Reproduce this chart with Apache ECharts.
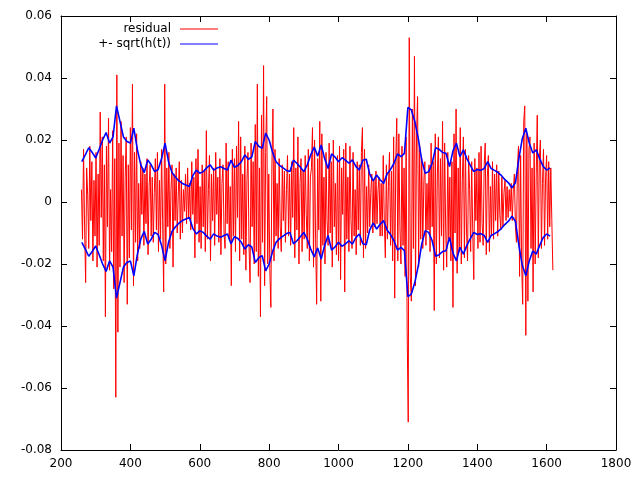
<!DOCTYPE html>
<html>
<head>
<meta charset="utf-8">
<title>residual</title>
<script src="https://cdn.jsdelivr.net/npm/echarts@6/dist/echarts.min.js"></script>
<style>
  html, body { margin: 0; padding: 0; background: #fff; }
  #main { width: 640px; height: 480px; }
</style>
</head>
<body>
<div id="main"></div>
<script>
// observation index t: first value, spacing
const resStart = 259;
const resStep = 3;
const sigStart = 260;
const sigStep = 10;

// residual (every 3rd t)
const residual = [
  0.004, -0.012, 0.017, -0.008, -0.026, 0.011, 0.002, -0.015, 0.018, -0.006, 0.013, -0.019, 0.007, -0.011, 0.016, -0.021,
  0.009, -0.014, 0.029, -0.005, 0.021, -0.019, 0.012, -0.037, 0.018, -0.008, 0.027, -0.022, 0.004, -0.016, 0.023, -0.028,
  0.014, -0.063, 0.041, -0.042, 0.019, -0.021, 0.026, -0.011, 0.015, -0.026, 0.008, 0.021, -0.033, 0.012, -0.018, 0.024,
  -0.009, 0.038, -0.027, 0.016, -0.013, 0.022, -0.019, 0.006, -0.015, 0.013, -0.004, 0.011, -0.014, 0.009, -0.007, 0.014,
  -0.017, 0.005, 0.012, -0.011, 0.008, -0.013, 0.003, 0.014, -0.009, 0.016, -0.016, 0.007, -0.012, 0.017, -0.006, -0.029,
  0.038, -0.02, 0.011, -0.008, 0.016, -0.015, 0.004, 0.012, -0.021, 0.009, -0.006, 0.011, -0.01, 0.002, 0.013, -0.012,
  0.007, -0.01, 0.004, -0.003, 0.009, -0.007, 0.011, -0.005, 0.006, -0.009, 0.013, -0.004, 0.008, -0.018, 0.014, -0.007,
  0.017, -0.013, 0.005, -0.015, 0.012, -0.008, 0.01, -0.016, 0.023, -0.012, 0.004, 0.015, -0.019, 0.009, -0.006, 0.011,
  -0.014, 0.016, -0.004, 0.008, -0.013, 0.014, -0.017, 0.006, 0.012, -0.01, -0.015, 0.019, -0.007, 0.013, -0.012, 0.005,
  -0.027, 0.017, -0.011, 0.014, -0.016, 0.018, -0.005, 0.026, -0.019, 0.021, -0.012, 0.009, -0.017, 0.018, -0.022, 0.007,
  0.016, -0.014, -0.026, 0.019, -0.008, 0.013, -0.02, 0.025, -0.016, 0.038, -0.024, 0.011, -0.037, 0.028, -0.013, 0.044,
  -0.027, 0.016, 0.034, -0.02, 0.009, -0.022, -0.034, 0.012, 0.030, -0.019, 0.017, -0.011, 0.006, -0.015, 0.014, -0.008,
  -0.016, 0.012, -0.006, 0.01, -0.013, 0.004, 0.015, -0.011, 0.009, -0.014, 0.013, -0.005, 0.024, -0.018, 0.011, -0.009,
  0.021, -0.02, 0.006, 0.014, -0.016, 0.01, -0.012, 0.015, -0.004, -0.015, 0.017, -0.019, 0.008, 0.011, 0.024, -0.021,
  0.02, -0.012, -0.033, 0.014, -0.009, 0.026, -0.032, 0.022, -0.014, 0.008, -0.02, 0.016, -0.006, -0.014, 0.019, -0.01,
  0.013, -0.021, 0.02, -0.008, 0.006, -0.017, 0.015, -0.019, 0.018, -0.025, 0.011, -0.004, 0.017, -0.029, 0.019, -0.012,
  0.008, -0.016, 0.018, -0.006, -0.015, 0.016, -0.011, 0.004, -0.017, 0.013, -0.009, 0.012, -0.014, 0.016, 0.024, -0.018,
  0.017, -0.015, 0.005, -0.01, 0.012, -0.008, 0.003, 0.009, -0.01, 0.007, -0.008, 0.01, -0.007, 0.004, 0.008, -0.011,
  0.006, -0.011, 0.015, -0.006, -0.018, 0.012, -0.012, 0.005, 0.016, -0.014, 0.01, -0.019, 0.021, -0.031, 0.013, 0.027,
  -0.019, 0.022, -0.008, -0.02, 0.018, -0.014, 0.011, -0.024, 0.021, -0.042, -0.071, 0.053, -0.024, -0.032, 0.03, -0.015,
  0.047, -0.027, 0.022, 0.034, -0.021, 0.018, -0.012, 0.014, -0.015, 0.007, 0.013, -0.014, 0.006, -0.009, 0.012, -0.016,
  0.019, -0.008, 0.013, -0.035, 0.022, -0.02, 0.009, 0.021, -0.018, 0.014, -0.011, 0.026, -0.022, 0.019, -0.009, -0.021,
  0.016, -0.012, 0.008, -0.019, 0.013, -0.034, 0.022, -0.01, 0.03, -0.023, 0.011, -0.016, 0.024, -0.02, 0.007, 0.021,
  -0.018, 0.017, -0.009, -0.019, 0.015, 0.004, -0.016, 0.013, -0.01, -0.025, 0.014, -0.006, 0.011, -0.015, 0.016, -0.013,
  0.018, -0.007, -0.014, 0.012, 0.019, -0.017, 0.008, 0.015, -0.016, 0.005, -0.011, 0.013, -0.012, 0.009, -0.006, 0.012,
  -0.011, 0.01, -0.004, -0.009, 0.008, -0.008, 0.003, 0.007, -0.006, 0.005, -0.005, 0.004, -0.003, 0.006, -0.006, 0.004,
  0.009, -0.008, -0.013, 0.012, 0.018, -0.024, 0.015, -0.02, -0.033, 0.026, 0.031, -0.043, 0.022, -0.032, 0.017, 0.021,
  -0.015, 0.011, -0.029, 0.019, -0.02, 0.009, 0.028, -0.018, 0.014, 0.02, -0.015, 0.006, 0.017, -0.014, 0.008, 0.015,
  -0.012, 0.013, -0.008, 0.011, -0.006, -0.022
];

// sqrt(h(t)), every 10th t
const sqrtH = [
  0.013, 0.0152, 0.0175, 0.016, 0.0142, 0.017, 0.020, 0.0224, 0.019, 0.021,
  0.031, 0.026, 0.021, 0.0195, 0.019, 0.0238, 0.017, 0.012, 0.0095, 0.0136,
  0.012, 0.0098, 0.0105, 0.014, 0.019, 0.013, 0.0095, 0.008, 0.0068, 0.006,
  0.0055, 0.005, 0.0085, 0.0103, 0.0093, 0.0098, 0.011, 0.012, 0.0103, 0.011,
  0.0114, 0.0108, 0.0103, 0.0135, 0.0112, 0.0118, 0.013, 0.0152, 0.0138, 0.0145,
  0.0195, 0.018, 0.0173, 0.0222, 0.020, 0.016, 0.013, 0.0118, 0.011, 0.0102,
  0.0098, 0.0135, 0.0125, 0.0112, 0.0098, 0.012, 0.0152, 0.0177, 0.0148, 0.0184,
  0.014, 0.0108, 0.0155, 0.0145, 0.013, 0.0143, 0.0135, 0.0125, 0.0136, 0.0115,
  0.0103, 0.0135, 0.0138, 0.009, 0.0068, 0.0087, 0.0072, 0.006, 0.009, 0.0105,
  0.0125, 0.0155, 0.0146, 0.0157, 0.0305, 0.0297, 0.026, 0.0205, 0.0135, 0.0093,
  0.0098, 0.0125, 0.0175, 0.017, 0.016, 0.0157, 0.0114, 0.0165, 0.019, 0.0146,
  0.0168, 0.014, 0.0118, 0.0098, 0.0105, 0.0102, 0.0108, 0.013, 0.0108, 0.0102,
  0.0095, 0.0085, 0.0072, 0.0062, 0.0046, 0.0062, 0.014, 0.0205, 0.0238, 0.019,
  0.0158, 0.0168, 0.014, 0.0115, 0.0103, 0.011
];

const xTicks = { min: 200, max: 1800, interval: 200 };
const yTicks = { min: -0.08, max: 0.06, interval: 0.02 };

const resData = residual.map((v, i) => [resStart + i * resStep, v]);
const upData = sqrtH.map((v, i) => [sigStart + i * sigStep, v]);
const lowData = sqrtH.map((v, i) => [sigStart + i * sigStep, -v]);

const font = { fontFamily: "DejaVu Sans", fontSize: 12, color: "#000" };
const black = { lineStyle: { color: "#000", width: 1 } };
// thin bar as legend key, like gnuplot's line sample
const keyIcon = "path://M0,0 H38 V1 H0 Z";

const chart = echarts.init(document.getElementById("main"));

const legendItem = (name, top) => ({
  data: [name],
  right: 422,
  top: top,
  padding: 0,
  align: "right",
  icon: keyIcon,
  itemWidth: 38,
  itemHeight: 14,
  textStyle: { ...font, padding: [0, 4, 0, 0] },
});

const option = {
  animation: false,
  backgroundColor: "#fff",
  grid: { left: 61, right: 24, top: 16, bottom: 30 },
  legend: [legendItem("residual", 23), legendItem("+- sqrt(h(t))", 38)],
  xAxis: [
    {
      type: "value",
      position: "bottom",
      ...xTicks,
      axisLine: { show: true, onZero: false, ...black },
      axisTick: { show: true, inside: true, length: 6, ...black },
      axisLabel: { ...font, margin: 8, formatter: (v) => String(v) },
      splitLine: { show: false },
    },
    {
      type: "value",
      position: "top",
      ...xTicks,
      axisLine: { show: true, onZero: false, ...black },
      axisTick: { show: true, inside: true, length: 6, ...black },
      axisLabel: { show: false },
      splitLine: { show: false },
    },
  ],
  yAxis: [
    {
      type: "value",
      position: "left",
      ...yTicks,
      axisLine: { show: true, onZero: false, ...black },
      axisTick: { show: true, inside: true, length: 6, ...black },
      axisLabel: {
        ...font,
        margin: 9,
        formatter: (v) => String(Math.round(v * 100) / 100),
      },
      splitLine: { show: false },
    },
    {
      type: "value",
      position: "right",
      ...yTicks,
      axisLine: { show: true, onZero: false, ...black },
      axisTick: { show: true, inside: true, length: 6, ...black },
      axisLabel: { show: false },
      splitLine: { show: false },
    },
  ],
  series: [
    {
      name: "residual",
      type: "line",
      data: resData,
      symbol: "none",
      color: "#ff0000",
      lineStyle: { color: "#ff0000", width: 1 },
    },
    {
      name: "+- sqrt(h(t))",
      type: "line",
      data: upData,
      symbol: "none",
      color: "#0000ff",
      lineStyle: { color: "#0000ff", width: 1.6 },
    },
    {
      name: "-sqrt(h(t))",
      type: "line",
      data: lowData,
      symbol: "none",
      color: "#0000ff",
      lineStyle: { color: "#0000ff", width: 1.6 },
    },
  ],
};

chart.setOption(option);
</script>
</body>
</html>
